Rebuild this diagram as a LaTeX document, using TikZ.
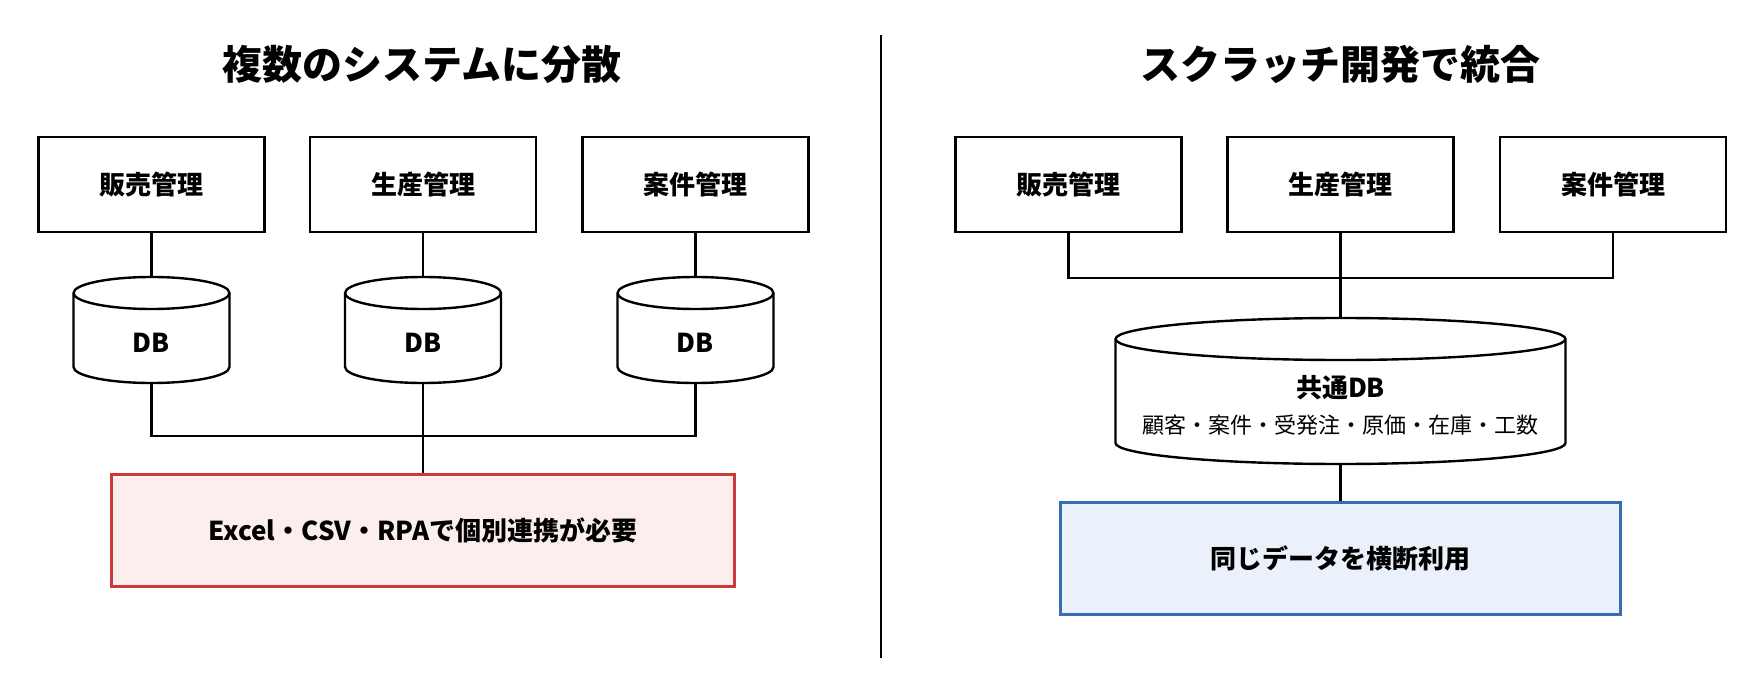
\documentclass[tikz,border=0pt]{standalone}
\usepackage{fontspec}
\setmainfont{Noto Sans CJK JP}
\definecolor{warnline}{RGB}{204,57,60}
\definecolor{warnfill}{RGB}{253,238,238}
\definecolor{okline}{RGB}{56,108,180}
\definecolor{okfill}{RGB}{234,241,251}
\tikzset{
  heading/.style={font=\fontsize{40}{48}\selectfont\bfseries},
  sysbox/.style={draw,line width=2.4pt,minimum width=226pt,minimum height=95pt,inner sep=0pt,font=\fontsize{26}{30}\selectfont\bfseries},
  dbcyl/.style={rectangle,inner sep=0pt,outer sep=0pt},
  dblabel/.style={font=\fontsize{26}{30}\selectfont\bfseries},
  wire/.style={line width=2.4pt},
  resultbox/.style={draw,line width=3pt,minimum height=112pt,font=\fontsize{26}{30}\selectfont\bfseries}
}
% outline of a database drum round a node: node, x radius, y radius
\newcommand{\drawcyl}[3]{%
  \draw[wire,fill=white] ([yshift=-#3]#1.north west) -- ([yshift=#3]#1.south west)
    arc[start angle=180,end angle=360,x radius=#2,y radius=#3]
    -- ([yshift=-#3]#1.north east)
    arc[start angle=0,end angle=180,x radius=#2,y radius=#3] -- cycle;
  \draw[wire] ([yshift=-#3]#1.north west) arc[start angle=180,end angle=360,x radius=#2,y radius=#3];}
\begin{document}
\begin{tikzpicture}[x=1pt,y=-1pt]
\useasboundingbox (0,0) rectangle (1757,687);
\node[heading] (titleL) at (422,64) {複数のシステムに分散};
\node[heading] (titleR) at (1340,64) {スクラッチ開発で統合};
\draw[line width=2.6pt] (881,35) -- (881,658);

\node[sysbox] (salesL) at (151.5,184.5) {販売管理};
\node[sysbox] (prodL) at (423,184.5) {生産管理};
\node[sysbox] (caseL) at (695.5,184.5) {案件管理};
\node[dbcyl,minimum width=156pt,minimum height=106pt] (dbSales) at (151.5,330) {};
\node[dbcyl,minimum width=156pt,minimum height=106pt] (dbProd) at (423,330) {};
\node[dbcyl,minimum width=156pt,minimum height=106pt] (dbCase) at (695.5,330) {};
\drawcyl{dbSales}{78pt}{16pt}
\drawcyl{dbProd}{78pt}{16pt}
\drawcyl{dbCase}{78pt}{16pt}
\node[dblabel] (dbSalesT) at (151.5,343) {DB};
\node[dblabel] (dbProdT) at (423,343) {DB};
\node[dblabel] (dbCaseT) at (695.5,343) {DB};
\node[resultbox,draw=warnline,fill=warnfill,minimum width=623pt] (warn) at (423,530) {Excel・CSV・RPAで個別連携が必要};
\coordinate (busL) at (423,436);
\draw[wire] (salesL.south) -- (dbSales.north);
\draw[wire] (prodL.south) -- (dbProd.north);
\draw[wire] (caseL.south) -- (dbCase.north);
\draw[wire] (dbSales.south) |- (busL) -| (dbCase.south);
\draw[wire] (dbProd.south) -- (warn.north);

\node[sysbox] (salesR) at (1068.5,184.5) {販売管理};
\node[sysbox] (prodR) at (1340.5,184.5) {生産管理};
\node[sysbox] (caseR) at (1613,184.5) {案件管理};
\node[dbcyl,minimum width=450pt,minimum height=146pt] (shared) at (1340.5,391) {};
\drawcyl{shared}{225pt}{21pt}
\node[dblabel] (sharedT) at (1340.5,388) {共通DB};
\node[font=\fontsize{22}{26}\selectfont] (sharedSub) at (1340.5,425) {顧客・案件・受発注・原価・在庫・工数};
\node[resultbox,draw=okline,fill=okfill,minimum width=560pt] (unified) at (1340.5,558) {同じデータを横断利用};
\coordinate (busR) at (1340.5,278);
\draw[wire] (salesR.south) |- (busR) -| (caseR.south);
\draw[wire] (prodR.south) -- (shared.north);
\draw[wire] (shared.south) -- (unified.north);
\end{tikzpicture}
\end{document}
